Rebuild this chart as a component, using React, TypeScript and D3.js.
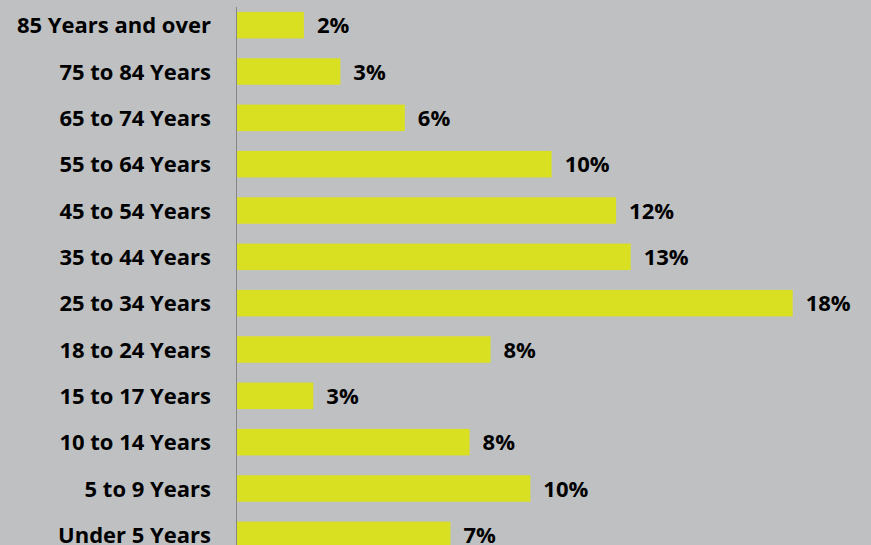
import React from "react";
import * as d3 from "d3";

const categories = [
  "85 Years and over",
  "75 to 84 Years",
  "65 to 74 Years",
  "55 to 64 Years",
  "45 to 54 Years",
  "35 to 44 Years",
  "25 to 34 Years",
  "18 to 24 Years",
  "15 to 17 Years",
  "10 to 14 Years",
  "5 to 9 Years",
  "Under 5 Years",
];
const shares = [2.2, 3.4, 5.52, 10.35, 12.47, 12.95, 18.28, 8.34, 2.51, 7.65, 9.65, 7.02];

const W = 871;
const H = 545;
const BG = "#bfc0c2";
const BAR = "#d9e021";
const FONT = "'Open Sans', Lato, sans-serif";

export default function App() {
  const x = d3.scaleLinear().domain([0, 20]).range([237, 237 + 608]);
  const y = d3
    .scaleBand<string>()
    .domain(categories)
    .range([2, 558])
    .paddingInner(0.428)
    .paddingOuter(0.214);
  const bw = y.bandwidth();

  return (
    <svg
      width={W}
      height={H}
      style={{ position: "fixed", left: 0, top: 0, display: "block" }}
    >
      <rect x={0} y={0} width={W} height={H} fill={BG} />
      {categories.map((c, i) => {
        const y0 = y(c) as number;
        const cy = y0 + bw / 2;
        const v = shares[i];
        return (
          <g key={c}>
            <rect x={x(0)} y={y0} width={x(v) - x(0)} height={bw} fill={BAR} />
            <text
              x={211}
              y={cy + 8}
              textAnchor="end"
              fontFamily={FONT}
              fontWeight={700}
              fontSize={22}
              fill="#000"
            >
              {c}
            </text>
            <text
              x={x(v) + 13}
              y={cy + 8}
              textAnchor="start"
              fontFamily={FONT}
              fontWeight={700}
              fontSize={22}
              fill="#000"
            >
              {Math.round(v) + "%"}
            </text>
          </g>
        );
      })}
      <line x1={236.5} x2={236.5} y1={7} y2={H} stroke="#878787" strokeWidth={1} />
    </svg>
  );
}
